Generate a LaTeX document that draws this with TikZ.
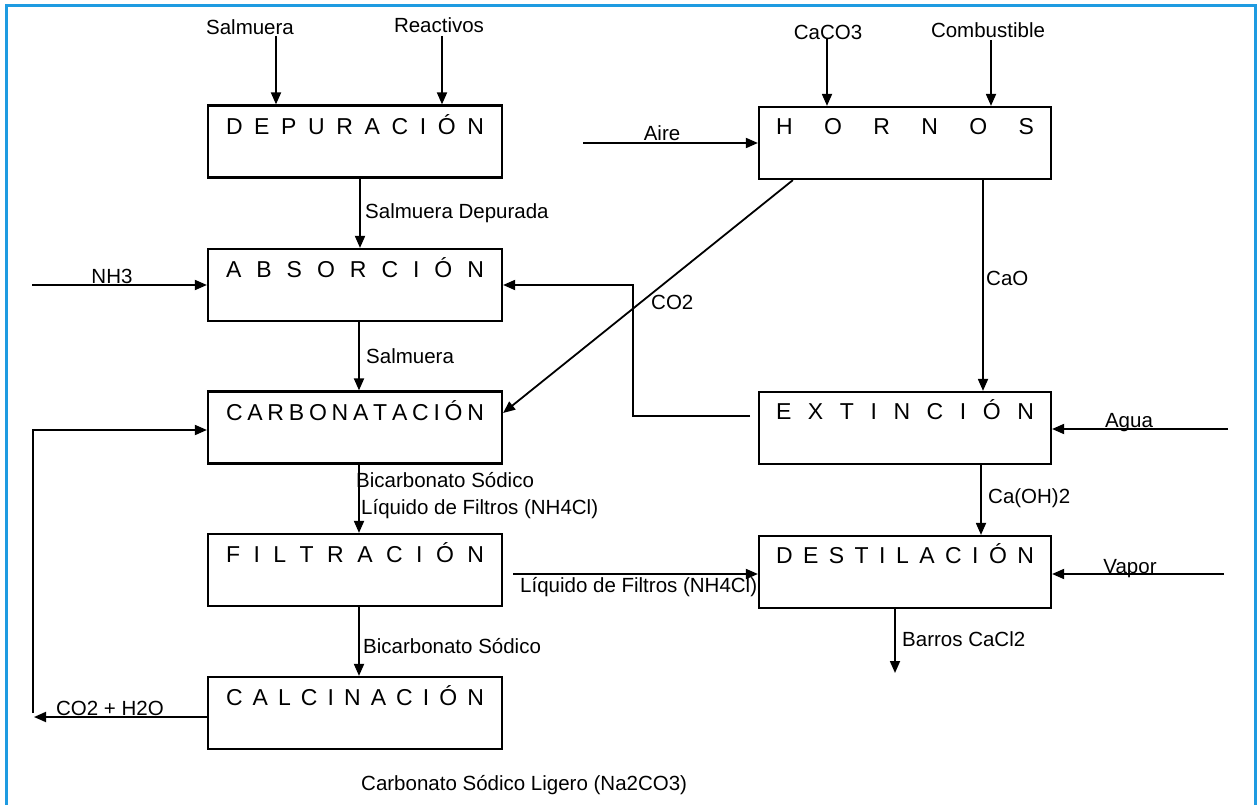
\documentclass[tikz,border=0pt]{standalone}
\usepackage{fontspec}
\setmainfont{Liberation Sans}
\usetikzlibrary{arrows.meta}
\definecolor{frameblue}{RGB}{30,155,225}
\newcommand{\ttl}[1]{\makebox[258pt][s]{#1}}
\begin{document}
\begin{tikzpicture}[x=1pt,y=-1pt,
  font=\fontsize{20.5}{24}\selectfont,
  box/.style={draw, line width=2.2pt, minimum width=294pt, minimum height=72pt, inner sep=0pt},
  title/.style={font=\fontsize{23}{27}\selectfont, inner sep=0pt, anchor=base},
  lbl/.style={inner sep=0pt},
  arr/.style={line width=1.8pt, -{Triangle[length=12pt,width=10pt]}},
  ln/.style={line width=1.8pt}]
\useasboundingbox (0,0) rectangle (1258,805);
\draw[frameblue, line width=3pt] (6,805) -- (6,6) -- (1255,6) -- (1255,805);

% boxes
\node[box] (dep) at (355,141.5) {};
\node[box] (abs) at (355,285) {};
\node[box] (car) at (355,427.5) {};
\node[box] (fil) at (355,570) {};
\node[box] (cal) at (355,713) {};
\node[box, minimum width=292pt] (hor) at (905,143) {};
\node[box, minimum width=292pt] (ext) at (905,428) {};
\node[box, minimum width=292pt] (des) at (905,572) {};

\node[title] (tdep) at ([yshift=-30pt]dep.north) {\ttl{D E P U R A C I Ó N}};
\node[title] (tabs) at ([yshift=-30pt]abs.north) {\ttl{A B S O R C I Ó N}};
\node[title] (tcar) at ([yshift=-30pt]car.north) {\ttl{C A R B O N A T A C I Ó N}};
\node[title] (tfil) at ([yshift=-30pt]fil.north) {\ttl{F I L T R A C I Ó N}};
\node[title] (tcal) at ([yshift=-30pt]cal.north) {\ttl{C A L C I N A C I Ó N}};
\node[title] (thor) at ([yshift=-29pt]hor.north) {\ttl{H O R N O S}};
\node[title] (text) at ([yshift=-29pt]ext.north) {\ttl{E X T I N C I Ó N}};
\node[title] (tdes) at ([yshift=-29pt]des.north) {\ttl{D E S T I L A C I Ó N}};

% top inputs
\node[lbl] (tsal) at (250,27) {Salmuera};
\coordinate (csal) at (276,36);
\draw[arr] (csal) -- (csal |- dep.north);
\node[lbl] (trea) at (439,25) {Reactivos};
\coordinate (crea) at (442,36);
\draw[arr] (crea) -- (crea |- dep.north);
\node[lbl] (tcac) at (828,32) {CaCO3};
\coordinate (ccac) at (827,38);
\draw[arr] (ccac) -- (ccac |- hor.north);
\node[lbl] (tcom) at (988,30) {Combustible};
\coordinate (ccom) at (991,40);
\draw[arr] (ccom) -- (ccom |- hor.north);

% side inputs
\coordinate (caire) at (583,143);
\draw[arr] (caire) -- (caire -| hor.west);
\node[lbl, anchor=base] (taire) at (662,141) {Aire};
\coordinate (cnh) at (32,285);
\draw[arr] (cnh) -- (abs.west);
\node[lbl, anchor=base] (tnh) at (112,283) {NH3};

% left column flow
\coordinate (xl) at (360,0);
\draw[arr] (dep.south -| xl) -- (abs.north -| xl);
\node[lbl, anchor=west] (tsd) at (365,213) {Salmuera Depurada};
\coordinate (xm) at (359,0);
\draw[arr] (abs.south -| xm) -- (car.north -| xm);
\node[lbl, anchor=west] (tsm) at (366,356) {Salmuera};
\draw[arr] (car.south -| xm) -- (fil.north -| xm);
\node[lbl, anchor=west] (tbs1) at (356,480) {Bicarbonato Sódico};
\node[lbl, anchor=west] (tlf1) at (361,509) {Líquido de Filtros (NH4Cl)};
\draw[arr] (fil.south -| xm) -- (cal.north -| xm);
\node[lbl, anchor=west] (tbs2) at (363,646) {Bicarbonato Sódico};

% CO2 + H2O recycle
\coordinate (cw) at (34,717);
\draw[arr] (cal.west |- cw) -- (cw);
\node[lbl, anchor=base] (tch) at (110,715) {CO2 + H2O};
\coordinate (rb) at (33,713);
\coordinate (rt) at (33,430);
\draw[arr] (rb) -- (rt) -- (rt -| car.west);

% right column flow
\coordinate (xc) at (983,0);
\draw[arr] (hor.south -| xc) -- (ext.north -| xc);
\node[lbl, anchor=west] (tcao) at (986,278) {CaO};
\coordinate (xd) at (981,0);
\draw[arr] (ext.south -| xd) -- (des.north -| xd);
\node[lbl, anchor=west] (tcaoh) at (988,498) {Ca(OH)2};
\coordinate (cag) at (1228,429);
\draw[arr] (cag) -- (cag -| ext.east);
\node[lbl, anchor=base] (tag) at (1129,427) {Agua};
\coordinate (cva) at (1224,574);
\draw[arr] (cva) -- (cva -| des.east);
\node[lbl, anchor=base] (tva) at (1130,573) {Vapor};
\coordinate (clf) at (513,574);
\draw[arr] (clf) -- (clf -| des.west);
\node[lbl, anchor=base west] (tlf2) at (520,592) {Líquido de Filtros (NH4Cl)};
\coordinate (xb) at (895,0);
\coordinate (cbar) at (895,673);
\draw[arr] (des.south -| xb) -- (cbar);
\node[lbl, anchor=west] (tbar) at (902,639) {Barros CaCl2};

% CO2 lines
\coordinate (ce) at (750,416);
\coordinate (kx) at (633,0);
\draw[arr] (ce) -| (abs.east -| kx) -- (abs.east);
\draw[arr] ([xshift=35pt]hor.south west) -- ([yshift=14.5pt]car.east);
\node[lbl, anchor=west] (tco2) at (651,302) {CO2};

\node[lbl, anchor=west] (tna) at (361,785) {Carbonato Sódico Ligero (Na2CO3)};
\end{tikzpicture}
\end{document}
